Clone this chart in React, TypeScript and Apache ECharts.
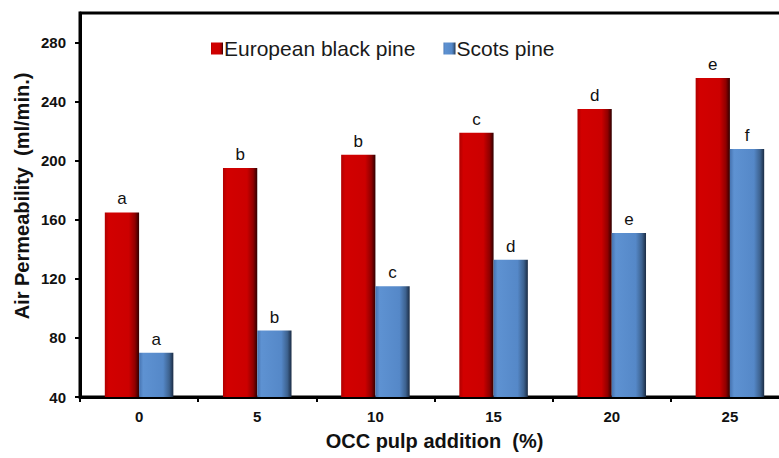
import React, { useEffect, useRef } from "react";
import * as echarts from "echarts";

const categories = ["0", "5", "10", "15", "20", "25"];
const europeanBlackPine = [165, 195, 204, 219, 235, 256];
const scotsPine = [70, 85, 115, 133, 151, 208];
const europeanLetters = ["a", "b", "b", "c", "d", "e"];
const scotsLetters = ["a", "b", "c", "d", "e", "f"];

const redGrad = new echarts.graphic.LinearGradient(0, 0, 1, 0, [
  { offset: 0, color: "#b00000" },
  { offset: 0.12, color: "#d20000" },
  { offset: 0.7, color: "#cc0000" },
  { offset: 0.88, color: "#900000" },
  { offset: 1, color: "#300000" },
]);
const blueGrad = new echarts.graphic.LinearGradient(0, 0, 1, 0, [
  { offset: 0, color: "#4673b0" },
  { offset: 0.12, color: "#5e92d2" },
  { offset: 0.7, color: "#5588c8" },
  { offset: 0.88, color: "#3d628f" },
  { offset: 1, color: "#1b2c44" },
]);

export default function App() {
  const ref = useRef<HTMLDivElement>(null);
  useEffect(() => {
    document.body.style.margin = "0";
    const chart = echarts.init(ref.current!, null, { renderer: "svg" });
    const font = "'Liberation Sans', Arial, sans-serif";
    chart.setOption({
      animation: false,
      textStyle: { fontFamily: font },
      grid: {
        left: 80,
        width: 709,
        top: 13,
        height: 384,
        outerBoundsMode: "none",
        containLabel: false,
        show: true,
        borderColor: "#000",
        borderWidth: 3,
      },
      legend: {
        left: 206,
        top: 33,
        icon: "rect",
        itemWidth: 12,
        itemHeight: 12,
        itemGap: 28,
        textStyle: { fontSize: 21, color: "#1a1a1a", fontFamily: font, padding: [0, 0, 0, -4] },
        data: ["European black pine", "Scots pine"],
      },
      xAxis: {
        type: "category",
        data: categories,
        name: "OCC pulp addition  (%)",
        nameLocation: "middle",
        nameGap: 34,
        nameTextStyle: { fontSize: 20, fontWeight: "bold", color: "#111", fontFamily: font },
        axisLine: { lineStyle: { color: "#000", width: 3 } },
        axisTick: { show: true, length: 5, lineStyle: { color: "#000", width: 2 } },
        axisLabel: { fontSize: 15, fontWeight: "bold", color: "#111", margin: 12, fontFamily: font },
      },
      yAxis: {
        type: "value",
        min: 40,
        max: 300,
        interval: 40,
        splitLine: { show: false },
        axisLine: { show: true, lineStyle: { color: "#000", width: 3 } },
        axisTick: { show: true, length: 5, lineStyle: { color: "#000", width: 2 } },
        axisLabel: { fontSize: 15, fontWeight: "bold", color: "#111", margin: 14, showMaxLabel: false, fontFamily: font },
      },
      graphic: [
        {
          type: "text",
          x: 22,
          y: 196,
          rotation: Math.PI / 2,
          style: {
            text: "Air Permeability  (ml/min.)",
            fontSize: 20,
            fontWeight: "bold",
            fill: "#111",
            fontFamily: font,
            align: "center",
            verticalAlign: "middle",
          },
        },
      ],
      series: [
        {
          name: "European black pine",
          type: "bar",
          data: europeanBlackPine,
          barGap: "0%",
          barCategoryGap: "42%",
          itemStyle: { color: redGrad },
          label: {
            show: true,
            position: "top",
            distance: 5,
            fontSize: 17,
            color: "#111",
            fontFamily: font,
            formatter: (p: any) => europeanLetters[p.dataIndex],
          },
        },
        {
          name: "Scots pine",
          type: "bar",
          data: scotsPine,
          itemStyle: { color: blueGrad },
          label: {
            show: true,
            position: "top",
            distance: 5,
            fontSize: 17,
            color: "#111",
            fontFamily: font,
            formatter: (p: any) => scotsLetters[p.dataIndex],
          },
        },
      ],
    });
    return () => chart.dispose();
  }, []);
  return <div ref={ref} style={{ width: 779, height: 458 }} />;
}
